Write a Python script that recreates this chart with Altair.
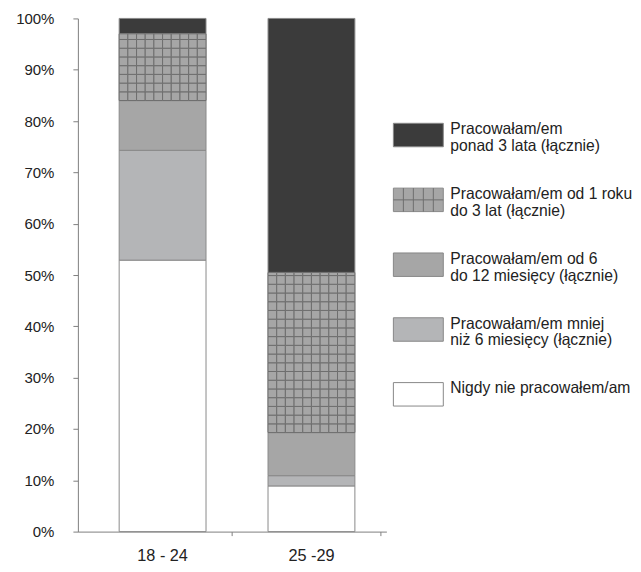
import altair as alt
import pandas as pd
import numpy as np

# ---- data ----
groups = ["18 - 24", "25 -29"]
keys = ["never", "lt6", "6to12", "1to3", "gt3"]  # bottom -> top in the stack
values_18_24 = [52.9, 21.4, 9.7, 13.0, 3.0]
values_25_29 = [8.9, 2.0, 8.4, 31.2, 49.5]
legend_keys = ["gt3", "1to3", "6to12", "lt6", "never"]  # top -> bottom in legend
legend_labels = [
    "Pracowałam/em\nponad 3 lata (łącznie)",
    "Pracowałam/em od 1 roku\ndo 3 lat  (łącznie)",
    "Pracowałam/em od 6\ndo 12 miesięcy (łącznie)",
    "Pracowałam/em mniej\nniż 6 miesięcy (łącznie)",
    "Nigdy nie pracowałem/am",
]
colors = ["#ffffff", "#b4b5b7", "#a6a6a6", "#a6a6a6", "#3b3b3b"]

FONT = "Liberation Sans"

# stacked segments
rows = []
for g, vals in zip(groups, [values_18_24, values_25_29]):
    cum = np.concatenate([[0.0], np.cumsum(vals)])
    for k, a, b in zip(keys, cum[:-1], cum[1:]):
        rows.append({"group": g, "cat": k, "y0": float(a), "y1": float(b)})
seg = pd.DataFrame(rows)

# hatch texture (grid) for the "1-3 years" segment
cells = []
n_cols = 10
for _, r in seg[seg["cat"] == "1to3"].iterrows():
    edges = list(np.arange(r["y0"], r["y1"] - 0.4, 1.7)) + [r["y1"]]
    for lo, hi in zip(edges[:-1], edges[1:]):
        for c in range(n_cols):
            cells.append({"group": r["group"], "col": c, "r0": lo, "r1": hi})
cells = pd.DataFrame(cells)

color_scale = alt.Scale(domain=keys, range=colors)

x_enc = alt.X(
    "group:N",
    sort=groups,
    scale=alt.Scale(paddingInner=0.4165, paddingOuter=0.2445, align=0.567),
    axis=alt.Axis(
        title=None, labelAngle=0, bandPosition=1.3,
        tickSize=4, labelPadding=12, labelFontSize=16.3,
    ),
)
y_scale = alt.Scale(domain=[0, 100])
y_axis = alt.Axis(
    title=None, values=list(range(0, 101, 10)), labelExpr="datum.value + '%'",
    tickSize=5, labelPadding=19, labelFontSize=15, grid=False,
)

bars = alt.Chart(seg).mark_bar(stroke="#8a8a8a", strokeWidth=1).encode(
    x=x_enc,
    y=alt.Y("y0:Q", scale=y_scale, axis=y_axis),
    y2="y1:Q",
    fill=alt.Fill("cat:N", scale=color_scale, legend=None),
)

grid = alt.Chart(cells).mark_bar(
    fill="#a6a6a6", stroke="#6e6e6e", strokeWidth=1
).encode(
    x=x_enc,
    xOffset=alt.XOffset("col:O", scale=alt.Scale(paddingInner=0, paddingOuter=0)),
    y=alt.Y("r0:Q", scale=y_scale, axis=y_axis),
    y2="r1:Q",
)

left = alt.layer(bars, grid).properties(width=309, height=514)

# ---- legend panel ----
leg = pd.DataFrame({"cat": legend_keys, "label": legend_labels})
ly = alt.Y("cat:N", sort=legend_keys,
           scale=alt.Scale(type="point", range=[116.8, 376.5], padding=0),
           axis=None)

swatch = alt.Chart(leg).mark_point(
    shape="M-1,-0.47H1V0.47H-1Z", size=50 * 50, filled=True,
    stroke="#888888", strokeWidth=1, opacity=1,
).encode(
    x=alt.value(32),
    y=ly,
    fill=alt.Fill("cat:N", scale=color_scale, legend=None),
)
swatch_grid = alt.Chart(leg).transform_filter(
    alt.datum.cat == "1to3"
).mark_point(
    shape="M-0.6,-0.47V0.47M-0.2,-0.47V0.47M0.2,-0.47V0.47M0.6,-0.47V0.47M-1,0H1",
    size=50 * 50, filled=False, stroke="#6e6e6e", strokeWidth=1, opacity=1,
).encode(x=alt.value(32), y=ly)

texts = alt.Chart(leg).mark_text(
    align="left", baseline="top", lineBreak="\n", fontSize=15.7, lineHeight=17,
    font=FONT, color="#222222", dy=-13,
).encode(x=alt.value(64), y=ly, text="label:N")

right = alt.layer(swatch, swatch_grid, texts).properties(width=240, height=514)

chart = alt.hconcat(left, right, spacing=0).properties(
    padding={"left": 7, "top": 3, "right": 0, "bottom": 0}
).configure_view(stroke=None).configure_axis(
    labelFont=FONT, labelColor="#222222", domainColor="#7f7f7f",
    tickColor="#7f7f7f",
)

chart.save("out.html", embed_options={"renderer": "svg", "actions": False})
